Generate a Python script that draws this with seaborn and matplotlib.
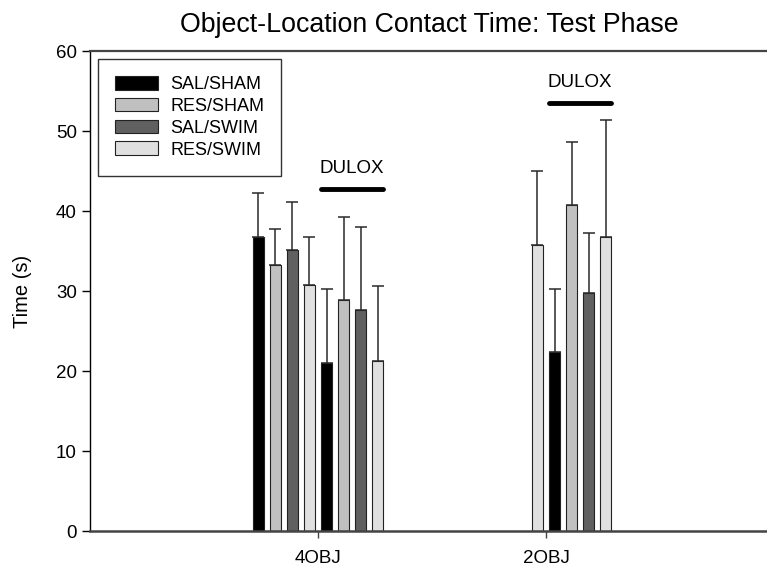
import numpy as np
import pandas as pd
import matplotlib
matplotlib.use("Agg")
from matplotlib import pyplot as plt
from matplotlib.patches import Patch
import seaborn as sns

# %% Data
groups = ["4OBJ", "2OBJ"]
conditions = ["SAL/SHAM", "RES/SHAM", "SAL/SWIM", "RES/SWIM"]
treatments = ["VEH", "DULOX"]
bar_colors = ["#000000", "#c0c0c0", "#606060", "#e0e0e0"]

veh_4obj = [36.7, 33.2, 35.1, 30.8]
veh_4obj_err = [5.5, 4.6, 6.0, 5.95]
dulox_4obj = [21.0, 28.9, 27.6, 21.25]
dulox_4obj_err = [9.25, 10.35, 10.4, 9.35]
veh_2obj = [np.nan, np.nan, np.nan, 35.7]
veh_2obj_err = [np.nan, np.nan, np.nan, 9.3]
dulox_2obj = [22.4, 40.7, 29.8, 36.75]
dulox_2obj_err = [7.8, 7.9, 7.4, 14.65]

dulox_line_y = [42.75, 53.5]


# %% Functions
def build_frame():
    table = {("4OBJ", "VEH"): (veh_4obj, veh_4obj_err),
             ("4OBJ", "DULOX"): (dulox_4obj, dulox_4obj_err),
             ("2OBJ", "VEH"): (veh_2obj, veh_2obj_err),
             ("2OBJ", "DULOX"): (dulox_2obj, dulox_2obj_err)}
    rows = []
    for (grp, trt), (vals, errs) in table.items():
        for cond, v, e in zip(conditions, vals, errs):
            if np.isnan(v):
                continue
            rows.append({"group": grp, "treatment": trt, "cond": cond,
                         "slot": cond + " " + trt, "time": v, "err": e})
    return pd.DataFrame(rows)


def main():
    df = build_frame()
    slots = [c + " " + t for t in treatments for c in conditions]
    palette = {c + " " + t: col for t in treatments for c, col in zip(conditions, bar_colors)}

    plt.rcParams["font.family"] = ["Liberation Sans", "DejaVu Sans"]
    fig = plt.figure(figsize=(7.67, 5.71), dpi=100)
    ax_w = 678
    ax = fig.add_axes([90 / 767, 40 / 571, ax_w / 767, 480 / 571])

    sns.barplot(data=df, x="group", y="time", hue="slot", order=groups, hue_order=slots,
                palette=palette, width=0.6, gap=0.35, dodge=True, errorbar=None,
                edgecolor="#222222", linewidth=0.8, legend=False, ax=ax)

    # error bars (upper only) on top of each bar
    dulox_extent = {g: [np.inf, -np.inf] for g in groups}
    for slot, cont in zip([s for s in slots if s in set(df["slot"])], ax.containers):
        sub = df[df["slot"] == slot].set_index("group").reindex(groups).dropna()
        for (grp, row), patch in zip(sub.iterrows(), cont.patches):
            xc = patch.get_x() + patch.get_width() / 2
            ax.errorbar(xc, row["time"], yerr=[[0], [row["err"]]], fmt="none",
                        ecolor="#2a2a2a", elinewidth=1.1, capsize=4.3, capthick=1.1, zorder=1)
            if row["treatment"] == "DULOX":
                dulox_extent[grp][0] = min(dulox_extent[grp][0], patch.get_x())
                dulox_extent[grp][1] = max(dulox_extent[grp][1], patch.get_x() + patch.get_width())

    for grp, y in zip(groups, dulox_line_y):
        x0, x1 = dulox_extent[grp]
        ax.plot([x0, x1], [y, y], color="black", lw=3.5, solid_capstyle="round")
        ax.text((x0 + x1) / 2, y + 1.5, "DULOX", ha="center", va="bottom", fontsize=13.5)

    ax.set_xlim(-1.0, -1.0 + ax_w / 228)
    ax.set_ylim(0, 60)
    ax.set_yticks(range(0, 61, 10))
    ax.set_xlabel("")
    ax.set_ylabel("Time (s)", fontsize=14.5, labelpad=17)
    ax.set_title("Object-Location Contact Time: Test Phase", fontsize=19.3, pad=14)

    ax.spines["right"].set_visible(False)
    ax.spines["left"].set_color("black")
    ax.spines["left"].set_linewidth(1.0)
    ax.spines["top"].set_color("#444444")
    ax.spines["top"].set_linewidth(1.6)
    ax.spines["bottom"].set_color("#444444")
    ax.spines["bottom"].set_linewidth(1.8)
    ax.tick_params(axis="y", direction="out", length=6, width=1.0, labelsize=13.5, colors="black")
    ax.tick_params(axis="x", direction="out", length=5, width=1.0, labelsize=13.5,
                   color="#444444", pad=9)

    handles = [Patch(facecolor=c, edgecolor="#222222", linewidth=0.8) for c in bar_colors]
    leg = ax.legend(handles, conditions, loc="upper left", bbox_to_anchor=(8 / ax_w, 472 / 480),
                    fontsize=13, frameon=True, fancybox=False, edgecolor="black",
                    handlelength=2.4, handleheight=0.78, labelspacing=0.26, borderpad=0.95,
                    handletextpad=0.65, borderaxespad=0)
    leg.get_frame().set_linewidth(1.0)

    fig.savefig("out.png", dpi=100)


# %% Run file
if __name__ == '__main__':
    main()
